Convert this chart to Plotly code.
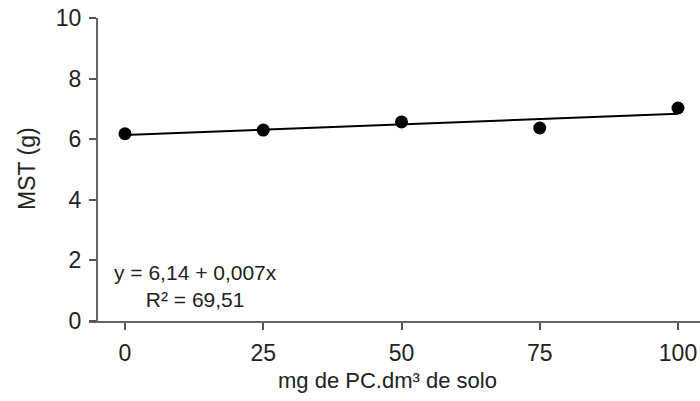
import plotly.graph_objects as go

doses = [0, 25, 50, 75, 100]
mst = [6.18, 6.30, 6.57, 6.37, 7.03]
intercept = 6.14
slope = 0.007
x_ticks = [0, 25, 50, 75, 100]
y_ticks = [0, 2, 4, 6, 8, 10]

fit_x = [doses[0], doses[-1]]
fit_y = [intercept + slope * v for v in fit_x]

W, H = 700, 401
L, R, T, B = 89, 0, 18, 80
pw = W - L - R
ph = H - T - B
x0px = 125.0
xscale = (678.0 - 125.0) / 100.0
xr = [(L - x0px) / xscale, (W - R - x0px) / xscale]
ypos = (97 - L) / pw

font = dict(family="Liberation Sans, Arial, sans-serif", color="#222222")

fig = go.Figure()
fig.add_trace(go.Scatter(x=fit_x, y=fit_y, mode="lines",
                         line=dict(color="black", width=2), showlegend=False))
fig.add_trace(go.Scatter(x=doses, y=mst, mode="markers",
                         marker=dict(color="black", size=13), showlegend=False))

fig.update_layout(
    width=W, height=H,
    margin=dict(l=L, r=R, t=T, b=B),
    paper_bgcolor="white", plot_bgcolor="white",
    font=dict(size=23, **font),
    xaxis=dict(range=xr, tickvals=x_ticks, ticks="outside", ticklen=7, tickwidth=1.5,
               tickcolor="#555555", showline=True, linecolor="#666666", linewidth=2,
               showgrid=False, zeroline=False, ticklabelstandoff=3,
               tickfont=dict(size=23, **font)),
    yaxis=dict(range=[0, 10], tickvals=y_ticks, ticks="outside", ticklen=7, tickwidth=1.5,
               tickcolor="#555555", showline=True, linecolor="#666666", linewidth=2,
               showgrid=False, zeroline=False, anchor="free", position=ypos,
               ticklabelstandoff=3, tickfont=dict(size=23, **font)),
    annotations=[
        dict(text="mg de PC.dm³ de solo", xref="paper", yref="paper",
             x=(387 - L) / pw, y=-(380 - 321) / ph, showarrow=False,
             font=dict(size=22, **font), xanchor="center", yanchor="middle"),
        dict(text="MST (g)", xref="paper", yref="paper",
             x=-(L - 27) / pw, y=(321 - 169) / ph, showarrow=False, textangle=-90,
             font=dict(size=23, **font), xanchor="center", yanchor="middle"),
        dict(text="y = 6,14 + 0,007x<br>R² = 69,51", xref="paper", yref="paper",
             x=(195 - L) / pw, y=(321 - 285.5) / ph, showarrow=False,
             align="center", font=dict(size=21, **font), xanchor="center", yanchor="middle"),
    ],
)
fig.write_html("out.html", config={"displayModeBar": False},
               post_script="document.body.style.margin='0';document.body.style.overflow='hidden';")
